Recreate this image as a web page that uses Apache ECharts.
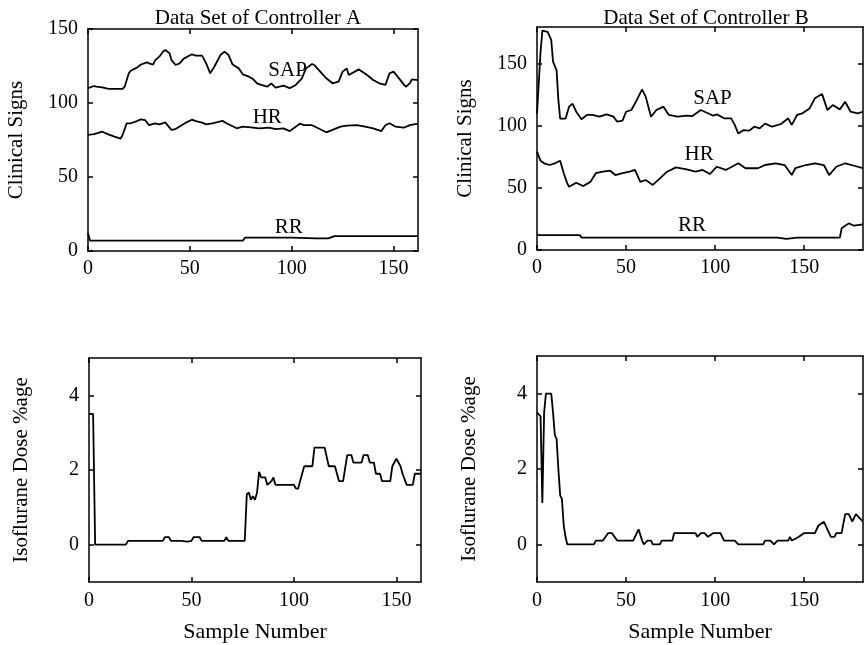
<!DOCTYPE html>
<html>
<head>
<meta charset="utf-8">
<script src="https://cdn.jsdelivr.net/npm/echarts@6/dist/echarts.min.js"></script>
<style>
  html, body { margin: 0; padding: 0; background: #fff; }
  #chart { width: 864px; height: 645px; }
</style>
</head>
<body>
<div id="chart"></div>
<script>
// sample number vs value
var sapA = [[0,110],[3,111.5],[4,111],[7,110.6],[10,109.5],[17,109.5],[18,111],[20,120],[21,121.8],[24,123.9],[26,126],[29,127.5],[30,126.8],[32,126],[33,129],[35,131.3],[37,135],[38,135.8],[40,133.6],[41,129],[43,125.7],[45,126.8],[47,130],[51,132.9],[53,132],[56,132],[58,126.8],[60,120],[62,124.5],[65,132.4],[67,134.7],[69,132.4],[71,126],[74,123.4],[76,119.4],[79,117.8],[81,116.2],[83,113.3],[85,112.2],[88,111],[90,113.3],[92,110.4],[96,111.7],[99,110],[102,112.2],[105,116.7],[107,123.4],[110,126.4],[111,125.7],[114,121.2],[117,116.7],[120,113.3],[123,114.4],[125,121.2],[127,123.4],[128,118.9],[131,121.2],[133,122.7],[137,118.9],[140,115.5],[143,113.3],[146,112.2],[148,120],[150,121.2],[152,117.8],[155,112.6],[156,111],[158,113.3],[159,116],[162,115.5]];
var hrA = [[0,78.4],[3,79],[7,80.6],[10,78.8],[13,77.3],[16,76],[17,78.4],[19,86.3],[21,86.3],[24,87.8],[26,89],[28,88.5],[30,85],[33,86.3],[35,85.6],[38,86.9],[39,85],[41,81.8],[43,82.4],[46,85],[48,86.7],[51,88.7],[53,87.8],[56,86.7],[58,85.6],[61,86.3],[66,88],[68,86.3],[70,85],[73,82.9],[76,84],[80,83.5],[84,82.9],[89,83.3],[92,82.4],[96,82.9],[99,81],[102,84],[104,86],[106,85],[110,85],[113,82.9],[117,80.2],[120,81.8],[124,84],[127,84.7],[132,85],[136,84],[140,82.9],[144,81],[146,85],[148,86.3],[151,84],[155,83.3],[158,85],[162,86]];
var rrA = [[0,12],[1,7],[40,7],[76,7],[77,9],[100,9],[112,8.5],[118,8.5],[121,10],[162,10]];

var sapB = [[0,110],[1,110],[2,160],[3,177],[4,178],[6,176],[8,169.5],[9,152],[11,145],[12,121],[13,106],[16,106],[18,115.7],[20,118],[22,111.6],[25,105.5],[28,109],[31,109],[35,107.6],[39,109.5],[43,107.6],[45,103.6],[48,104.4],[50,111.6],[53,113],[56,121],[59,129.7],[61,123.8],[64,107.6],[67,113],[71,115.7],[74,109],[79,107.6],[84,108.4],[87,108],[92,113],[95,111],[99,108.4],[101,109.5],[105,106.3],[109,106.3],[111,101],[113,94],[116,96.8],[119,96.3],[122,99.5],[125,98.2],[128,102],[132,99.5],[137,101.7],[141,106.3],[143,101],[146,109],[149,110.3],[153,114.3],[156,122.4],[160,126],[163,113],[166,117],[170,113.5],[173,119.7],[176,111.6],[180,110.3],[183,111.6]];
var hrB = [[0,79.4],[2,72],[4,70],[7,68.6],[10,70],[13,72],[15,62],[17,53.8],[18,51],[22,54.3],[26,51.6],[30,55],[33,62],[37,63.2],[41,64],[44,60.5],[48,62],[52,63.2],[55,64.6],[58,55],[61,56.5],[65,52.5],[69,57.8],[73,63.2],[78,66.7],[84,65],[89,63.2],[93,64.6],[97,61.3],[101,67.2],[106,64.6],[113,70],[117,66],[124,66],[128,68.6],[134,70],[139,68.6],[143,60.5],[145,66],[151,68.6],[156,70],[161,68.6],[164,60.5],[168,67.2],[173,70],[178,68],[183,66]];
var rrB = [[0,12],[24,12],[25,10],[135,10],[140,9],[146,10],[170,10],[171,17.5],[175,21.5],[178,19.6],[183,20.7]];

var doseA = [[0,3.5],[2,3.5],[3,0],[18,0],[19,0.1],[36,0.1],[37,0.2],[39,0.2],[40,0.1],[45,0.1],[48,0.08],[50,0.1],[51,0.2],[54,0.2],[55,0.1],[66,0.1],[67,0.2],[68,0.1],[76,0.1],[77,1.35],[78,1.4],[79,1.2],[80,1.3],[81,1.2],[82,1.4],[83,1.95],[84,1.8],[86,1.8],[87,1.6],[89,1.7],[90,1.8],[91,1.6],[100,1.6],[101,1.5],[102,1.5],[103,1.7],[105,2.1],[109,2.1],[110,2.6],[115,2.6],[117,2.1],[120,2.1],[122,1.7],[124,1.7],[126,2.4],[128,2.4],[129,2.2],[133,2.2],[134,2.4],[136,2.4],[137,2.2],[139,2.2],[140,1.9],[142,1.9],[143,1.7],[147,1.7],[148,2.1],[150,2.3],[152,2.1],[153,1.9],[155,1.6],[158,1.6],[159,1.9],[162,1.9]];
var doseB = [[0,3.5],[1,3.5],[2,3.4],[3,1.1],[4,3.5],[5,4],[8,4],[9,3.5],[10,2.9],[11,2.8],[12,2],[13,1.3],[14,1.2],[15,0.5],[16,0.2],[17,0],[32,0],[33,0.1],[37,0.1],[40,0.3],[42,0.3],[45,0.1],[54,0.1],[56,0.3],[57,0.4],[59,0.1],[60,0],[62,0.1],[64,0.1],[65,0],[69,0],[70,0.1],[76,0.1],[77,0.3],[89,0.3],[90,0.2],[92,0.3],[94,0.3],[96,0.2],[99,0.3],[103,0.3],[105,0.1],[111,0.1],[113,0],[127,0],[128,0.1],[131,0.1],[133,0],[135,0.1],[141,0.1],[142,0.2],[143,0.1],[145,0.15],[147,0.2],[150,0.3],[156,0.3],[158,0.5],[161,0.6],[163,0.4],[165,0.2],[167,0.2],[168,0.3],[171,0.3],[173,0.8],[175,0.8],[177,0.6],[179,0.8],[181,0.7],[183,0.6]];

var xTicks = [0, 50, 100, 150];
var signTicksA = [0, 50, 100, 150];
var signTicksB = [0, 50, 100, 150];
var doseTicks = [0, 2, 4];

var FONT = 'Liberation Serif';

var grids = [
    {left: 88, top: 29, width: 330, height: 222},
    {left: 537, top: 27, width: 326, height: 223},
    {left: 89, top: 358, width: 332, height: 224},
    {left: 537, top: 356, width: 326, height: 226}
];
var xMax = [162, 183, 162, 183];
var yMin = [0, 0, -1, -1];
var yMax = [150, 180, 5, 5];
var yTicks = [signTicksA, signTicksB, doseTicks, doseTicks];
var yNames = ['Clinical Signs', 'Clinical Signs', 'Isoflurane Dose %age', 'Isoflurane Dose %age'];
var yGaps = [61, 61, 57, 57];

var lineStyle = {color: '#000', width: 1.8};
var frameStyle = {color: '#000', width: 1.5};

var xAxes = [], yAxes = [];
for (var i = 0; i < 4; i++) {
    xAxes.push({
        type: 'value', gridIndex: i, min: 0, max: xMax[i], position: 'bottom',
        axisLine: {onZero: false, lineStyle: frameStyle},
        axisTick: {inside: true, length: 5, customValues: xTicks, lineStyle: frameStyle},
        axisLabel: {customValues: xTicks, margin: i < 2 ? 8 : 9, color: '#000', fontFamily: FONT, fontSize: 20},
        splitLine: {show: false},
        name: i >= 2 ? 'Sample Number' : '',
        nameLocation: 'middle', nameGap: 39,
        nameTextStyle: {color: '#000', fontFamily: FONT, fontSize: 22}
    });
    xAxes.push({
        type: 'value', gridIndex: i, min: 0, max: xMax[i], position: 'top',
        axisLine: {onZero: false, lineStyle: frameStyle},
        axisTick: {inside: true, length: 5, customValues: xTicks, lineStyle: frameStyle},
        axisLabel: {show: false}, splitLine: {show: false}
    });
    yAxes.push({
        type: 'value', gridIndex: i, min: yMin[i], max: yMax[i], position: 'left',
        axisLine: {show: true, onZero: false, lineStyle: frameStyle},
        axisTick: {show: true, inside: true, length: 5, customValues: yTicks[i], lineStyle: frameStyle},
        axisLabel: {customValues: yTicks[i], margin: 10, color: '#000', fontFamily: FONT, fontSize: 20},
        splitLine: {show: false},
        name: yNames[i], nameLocation: 'middle', nameGap: yGaps[i],
        nameTextStyle: {color: '#000', fontFamily: FONT, fontSize: 21}
    });
    yAxes.push({
        type: 'value', gridIndex: i, min: yMin[i], max: yMax[i], position: 'right',
        axisLine: {show: true, onZero: false, lineStyle: frameStyle},
        axisTick: {show: true, inside: true, length: 5, customValues: yTicks[i], lineStyle: frameStyle},
        axisLabel: {show: false}, splitLine: {show: false}
    });
}

function line(data, g) {
    return {
        type: 'line', data: data, xAxisIndex: g * 2, yAxisIndex: g * 2,
        showSymbol: false, symbol: 'none', lineStyle: lineStyle, animation: false
    };
}

function tag(text, x, y, g) {
    return {
        type: 'scatter', xAxisIndex: g * 2, yAxisIndex: g * 2, symbolSize: 0,
        data: [[x, y]], animation: false, silent: true,
        itemStyle: {opacity: 1},
        label: {show: true, position: 'inside', formatter: text, color: '#000',
                opacity: 1, fontFamily: FONT, fontSize: 21}
    };
}

var myChart = echarts.init(document.getElementById('chart'), null, {renderer: 'canvas'});

var option = {
    backgroundColor: '#fff',
    animation: false,
    title: [
        {text: 'Data Set of Controller A', left: 253, top: 3, textAlign: 'center',
         textStyle: {color: '#000', fontFamily: FONT, fontSize: 21, fontWeight: 'normal'}},
        {text: 'Data Set of Controller B', left: 701, top: 3, textAlign: 'center',
         textStyle: {color: '#000', fontFamily: FONT, fontSize: 21, fontWeight: 'normal'}}
    ],
    grid: grids,
    xAxis: xAxes,
    yAxis: yAxes,
    series: [
        line(sapA, 0), line(hrA, 0), line(rrA, 0),
        line(sapB, 1), line(hrB, 1), line(rrB, 1),
        line(doseA, 2), line(doseB, 3),
        tag('SAP', 98, 122, 0), tag('HR', 88, 90.5, 0), tag('RR', 98.5, 16, 0),
        tag('SAP', 98.5, 122, 1), tag('HR', 91, 76.7, 1), tag('RR', 87, 19.4, 1)
    ]
};

myChart.setOption(option);
</script>
</body>
</html>
